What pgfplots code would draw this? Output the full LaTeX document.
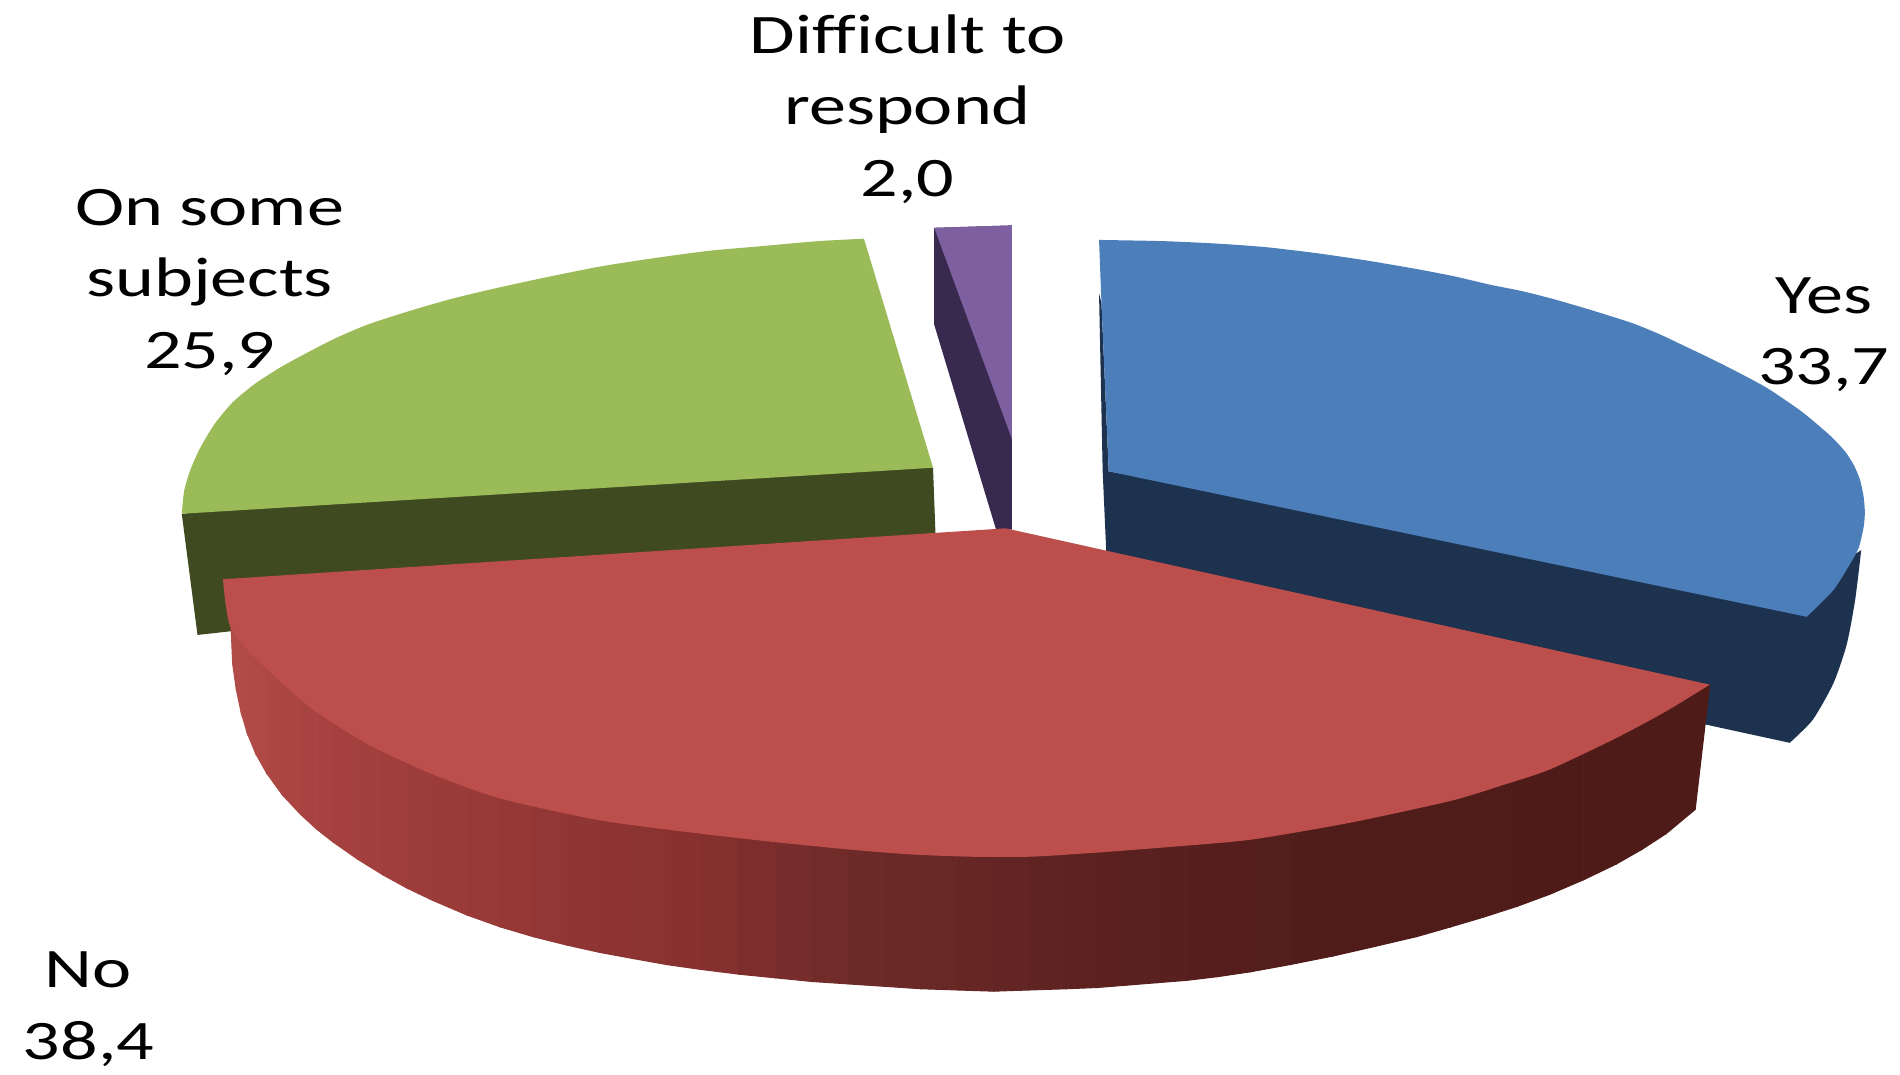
\documentclass[border=0pt]{standalone}
\usepackage{pgfplots}
\pgfplotsset{compat=1.18}
\usepackage{fontspec}
\setmainfont[Ligatures=NoCommon]{Carlito}
\definecolor{blueTop}{HTML}{4C7FBA}
\definecolor{blueSide}{HTML}{1C324F}
\definecolor{greenTop}{HTML}{9BBB59}
\definecolor{greenSide}{HTML}{404A20}
\definecolor{purpleTop}{HTML}{7E5FA0}
\definecolor{purpleSide}{HTML}{382A4F}
\definecolor{redTop}{HTML}{BC4E4B}
\tikzset{lbl/.style={font=\fontsize{23}{29.5}\selectfont, align=center, text=black, xscale=1.33, transform shape}}
\begin{document}
\begin{tikzpicture}
\begin{axis}[
	hide axis,
	scale only axis,
	width=784pt,
	height=442pt,
	xmin=0, xmax=1568,
	ymin=0, ymax=884,
	y dir=reverse,
	clip=false,
	tension=0.4,
	colormap={wall}{rgb255(190pt)=(179,77,74); rgb255(250pt)=(168,67,64); rgb255(450pt)=(146,55,53); rgb255(570pt)=(136,49,47); rgb255(700pt)=(110,43,41); rgb255(900pt)=(92,34,32); rgb255(1100pt)=(80,28,26); rgb255(1411pt)=(78,27,25)},
]
% page
\addplot[fill=white, draw=none] coordinates {(0,0) (1568,0) (1568,884) (0,884)} --cycle;

% yes: side, then top (arc filled to its chord + inner polygon)
\addplot[fill=blueSide, draw=none] coordinates {
	(907,242) (909,250) (915,389) (1200,440) (1480,490) (1536,454) (1505,550) (1477,613) (1408,598) (1000,490) (913,456) (910,389)} --cycle;
\addplot[fill=blueSide, draw=none, smooth] coordinates {
	(1536,454) (1531,495) (1524,532) (1513,564) (1496,594) (1477,613)};
\addplot[fill=blueTop, draw=none, smooth] coordinates {
	(907,198) (960,199) (1004,201) (1045,204) (1087,209) (1128,215) (1169,222) (1200,228) (1230,235) (1255,240) (1279,246) (1300,252) (1320,258) (1348,267)
	(1370,276) (1389,285) (1410,295) (1430,305) (1458,320) (1486,339) (1503,353) (1513,362) (1523,373) (1530,384) (1535,396) (1538,410) (1539,423) (1538,435) (1534,452) (1527,465) (1513,487) (1491,509)};
\addplot[fill=blueTop, draw=none] coordinates {
	(907,198) (1200,300) (1491,509) (915,389) (909,250)} --cycle;

% on some subjects
\addplot[fill=greenSide, draw=none] coordinates {
	(150,424) (460,395) (770,386) (772,440) (400,470) (190,521) (163,524)} --cycle;
\addplot[fill=greenTop, draw=none, smooth] coordinates {
	(150,424) (152,405) (157,388) (165,370) (177,350) (192,332) (210,317) (230,304) (248,294) (275,280) (303,268) (340,256) (375,246)
	(413,237) (450,229) (495,220) (540,213) (585,207) (630,203) (675,199) (713,197)};
\addplot[fill=greenTop, draw=none] coordinates {
	(150,424) (400,290) (713,197) (770,386)} --cycle;

% difficult to respond
\addplot[fill=purpleSide, draw=none] coordinates {
	(771,188) (835,186) (835,437) (822,437) (771,268)} --cycle;
\addplot[fill=purpleTop, draw=none] coordinates {
	(771,188) (835,186) (835,362)} --cycle;

% no: banded wall, then top
\addplot[surf, shader=flat mean, mesh/ordering=y varies, mesh/rows=2, point meta=x] table {
x y
190 510
191 525
192 512
192 548
195 516
195 569
199 521
199 588
204 527
204 605
211 535
211 622
220 545
220 638
233 557
233 656
248 571
248 672
261 581
261 684
275 590
275 695
295 602
295 709
316 614
316 722
336 624
336 733
357 633
357 743
385 642
385 755
413 651
413 765
440 658
440 773
468 664
468 780
495 669
495 786
522 673
522 791
550 677
550 796
578 680
578 800
610 684
610 804
640 687
640 807
670 690
670 810
700 693
700 812
730 697
730 814
760 699
760 816
790 700
790 817
820 700
820 818
850 699
850 817
880 697
880 816
905 696
905 815
930 694
930 813
955 692
955 811
980 690
980 809
1005 688
1005 806
1032 685
1032 802
1065 680
1065 796
1100 674
1100 789
1135 667
1135 781
1169 660
1169 773
1197 654
1197 765
1224 647
1224 757
1252 637
1252 748
1279 626
1279 738
1307 613
1307 726
1334 600
1334 713
1355 589
1355 701
1375 578
1375 688
1411 565
1399 668
};
\addplot[fill=redTop, draw=none, smooth] coordinates {
	(184,478) (186,497) (190,517) (203,535) (220,552) (256,584) (303,614) (357,639) (413,659) (495,677) (578,688) (640,695) (700,701)
	(750,705) (800,707) (850,707) (900,704) (965,699) (1032,693) (1114,679) (1197,661) (1240,648) (1279,635) (1334,609) (1375,587) (1411,565)};
\addplot[fill=redTop, draw=none] coordinates {
	(184,478) (830,436) (1411,565) (800,600)} --cycle;

\node[lbl] at (axis cs:749,90) {Difficult to\\respond\\2,0};
\node[lbl] at (axis cs:173,233) {On some\\subjects\\25,9};
\node[lbl] at (axis cs:1505,276) {Yes\\33,7};
\node[lbl] at (axis cs:73,833) {No\\38,4};
\end{axis}
\end{tikzpicture}
\end{document}
